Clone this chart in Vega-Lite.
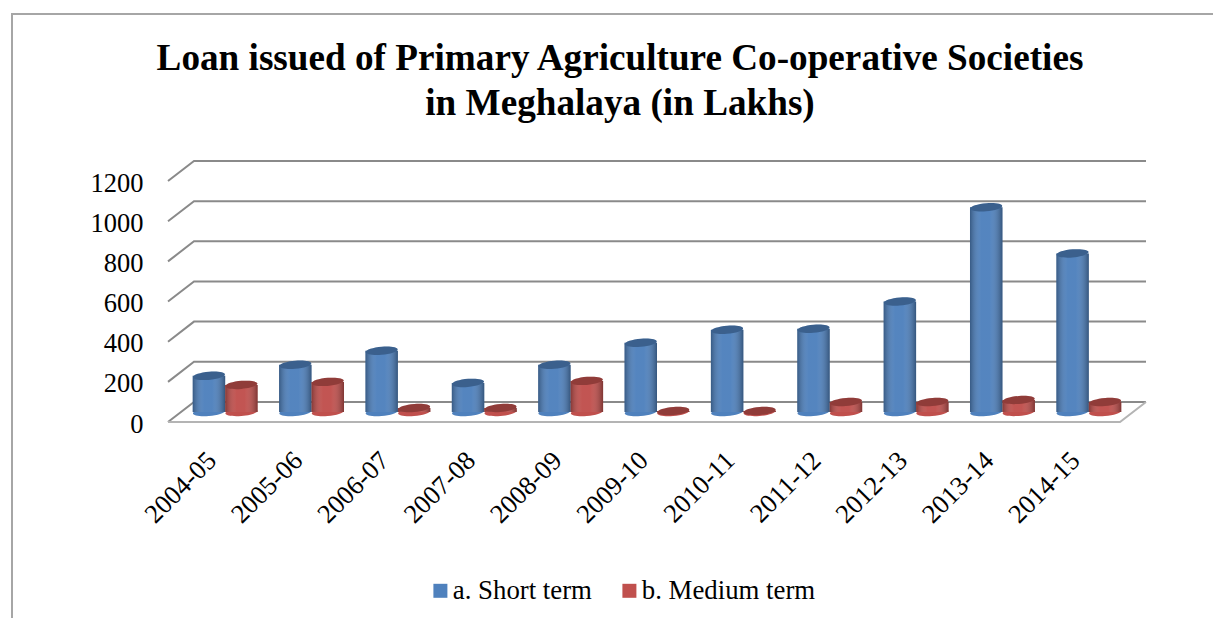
{
"$schema":"https://vega.github.io/schema/vega-lite/v6.json",
"width":978,"height":261,
"autosize":{"type":"none"},
"padding":{"left":168,"top":161,"right":67,"bottom":196},
"background":"white",
"config":{"view":{"stroke":null},"font":"Liberation Serif"},
"title":{"text":["Loan issued of Primary Agriculture Co-operative Societies","in Meghalaya (in Lakhs)"],"font":"Liberation Serif","fontSize":37.2,"fontWeight":"bold","color":"#000000","anchor":"middle","align":"center","dx":-37,"lineHeight":45,"offset":-113},
"datasets":{
"wall":[
{"line":"g0","seq":1,"px":0,"level":0,"kind":"grid"},{"line":"g0","seq":2,"px":26,"level":100,"kind":"grid"},{"line":"g0","seq":3,"px":978,"level":100,"kind":"grid"},
{"line":"floor","seq":1,"px":978,"level":100,"kind":"floor"},{"line":"floor","seq":2,"px":952,"level":0,"kind":"floor"},{"line":"floor","seq":3,"px":0,"level":0,"kind":"floor"},
{"line":"g200","seq":1,"px":0,"level":200,"kind":"grid"},{"line":"g200","seq":2,"px":26,"level":300,"kind":"grid"},{"line":"g200","seq":3,"px":978,"level":300,"kind":"grid"},
{"line":"g400","seq":1,"px":0,"level":400,"kind":"grid"},{"line":"g400","seq":2,"px":26,"level":500,"kind":"grid"},{"line":"g400","seq":3,"px":978,"level":500,"kind":"grid"},
{"line":"g600","seq":1,"px":0,"level":600,"kind":"grid"},{"line":"g600","seq":2,"px":26,"level":700,"kind":"grid"},{"line":"g600","seq":3,"px":978,"level":700,"kind":"grid"},
{"line":"g800","seq":1,"px":0,"level":800,"kind":"grid"},{"line":"g800","seq":2,"px":26,"level":900,"kind":"grid"},{"line":"g800","seq":3,"px":978,"level":900,"kind":"grid"},
{"line":"g1000","seq":1,"px":0,"level":1000,"kind":"grid"},{"line":"g1000","seq":2,"px":26,"level":1100,"kind":"grid"},{"line":"g1000","seq":3,"px":978,"level":1100,"kind":"grid"},
{"line":"g1200","seq":1,"px":0,"level":1200,"kind":"grid"},{"line":"g1200","seq":2,"px":26,"level":1300,"kind":"grid"},{"line":"g1200","seq":3,"px":978,"level":1300,"kind":"grid"},
{"line":"frame","seq":1,"px":-156,"level":-976,"kind":"frame"},{"line":"frame","seq":2,"px":-156,"level":2032,"kind":"frame"},{"line":"frame","seq":3,"px":1045,"level":2032,"kind":"frame"}
],
"loans":[
{"year":"2004-05","series":"a. Short term","value":180},{"year":"2004-05","series":"b. Medium term","value":135},
{"year":"2005-06","series":"a. Short term","value":235},{"year":"2005-06","series":"b. Medium term","value":150},
{"year":"2006-07","series":"a. Short term","value":305},{"year":"2006-07","series":"b. Medium term","value":20},
{"year":"2007-08","series":"a. Short term","value":145},{"year":"2007-08","series":"b. Medium term","value":20},
{"year":"2008-09","series":"a. Short term","value":235},{"year":"2008-09","series":"b. Medium term","value":155},
{"year":"2009-10","series":"a. Short term","value":345},{"year":"2009-10","series":"b. Medium term","value":5},
{"year":"2010-11","series":"a. Short term","value":410},{"year":"2010-11","series":"b. Medium term","value":5},
{"year":"2011-12","series":"a. Short term","value":415},{"year":"2011-12","series":"b. Medium term","value":50},
{"year":"2012-13","series":"a. Short term","value":550},{"year":"2012-13","series":"b. Medium term","value":50},
{"year":"2013-14","series":"a. Short term","value":1020},{"year":"2013-14","series":"b. Medium term","value":60},
{"year":"2014-15","series":"a. Short term","value":790},{"year":"2014-15","series":"b. Medium term","value":50}
]},
"resolve":{"scale":{"x":"independent","y":"independent"},"axis":{"x":"independent","y":"independent"}},
"layer":[
{"data":{"name":"wall"},
 "mark":{"type":"line","strokeWidth":2,"clip":false},
 "encoding":{
  "x":{"field":"px","type":"quantitative","scale":{"domain":[0,978],"range":[0,978],"nice":false,"zero":false},"axis":null},
  "y":{"field":"level","type":"quantitative","scale":{"domain":[0,1300],"nice":false,"zero":false},"axis":{"values":[0,200,400,600,800,1000,1200],"format":"d","title":null,"domain":false,"ticks":false,"grid":false,"labelFont":"Liberation Serif","labelFontSize":26.5,"labelColor":"#000000","labelPadding":25,"labelOffset":2}},
  "detail":{"field":"line","type":"nominal"},
  "order":{"field":"seq","type":"quantitative"},
  "stroke":{"field":"kind","type":"nominal","scale":{"domain":["grid","floor","frame"],"range":["#8a8a8a","#b4b4b4","#a6a6a6"]},"legend":null}
 }},
{"data":{"name":"loans"},
 "encoding":{
  "x":{"field":"year","type":"nominal","sort":null,"scale":{"paddingInner":0,"paddingOuter":0.162,"align":0.5},"axis":{"title":null,"domain":false,"ticks":false,"grid":false,"labelAngle":-45,"labelAlign":"right","labelBaseline":"middle","labelFont":"Liberation Serif","labelFontSize":26.5,"labelColor":"#000000","labelPadding":34,"labelOffset":-13}},
  "xOffset":{"field":"series","type":"nominal","scale":{"paddingInner":0,"paddingOuter":0.33}},
  "y":{"field":"value","type":"quantitative","scale":{"domain":[0,1300],"range":[251,-10],"nice":false,"zero":false},"axis":null}
 },
 "layer":[
  {"mark":{"type":"point","filled":true,"opacity":1,"size":1024,"shape":"M-1,0.08 A1,0.25 -5 1 1 1,-0.08 A1,0.25 -5 1 1 -1,0.08Z"},
   "encoding":{"y":{"datum":0,"type":"quantitative","scale":{"domain":[0,1300],"range":[251,-10],"nice":false,"zero":false},"axis":null},
    "color":{"field":"series","type":"nominal","scale":{"domain":["a. Short term","b. Medium term"],"range":["#4F81BD","#C0504D"]},
     "legend":{"title":null,"orient":"none","legendX":259,"legendY":416,"direction":"horizontal","columns":2,"symbolType":"square","symbolSize":196,"symbolStrokeWidth":0,"symbolOpacity":1,"labelFont":"Liberation Serif","labelFontSize":26.8,"labelColor":"#000000","labelOffset":-1,"columnPadding":24,"labelLimit":300}}}},
  {"mark":{"type":"bar"},
   "encoding":{"color":{"field":"series","type":"nominal"}}},
  {"mark":{"type":"bar","color":{"gradient":"linear","x1":0,"x2":1,"y1":0,"y2":0,"stops":[{"offset":0,"color":"rgba(0,0,0,0.30)"},{"offset":0.35,"color":"rgba(255,255,255,0.03)"},{"offset":0.6,"color":"rgba(255,255,255,0.03)"},{"offset":1,"color":"rgba(0,0,0,0.34)"}]}}},
  {"mark":{"type":"point","filled":true,"opacity":1,"size":1024,"shape":"M-1,0.08 A1,0.25 -5 1 1 1,-0.08 A1,0.25 -5 1 1 -1,0.08Z"},"encoding":{"color":{"field":"series","type":"nominal"}}},
  {"mark":{"type":"point","filled":true,"opacity":0.25,"size":1024,"color":"#000000","shape":"M-1,0.08 A1,0.25 -5 1 1 1,-0.08 A1,0.25 -5 1 1 -1,0.08Z"}}
 ]}
]
}
